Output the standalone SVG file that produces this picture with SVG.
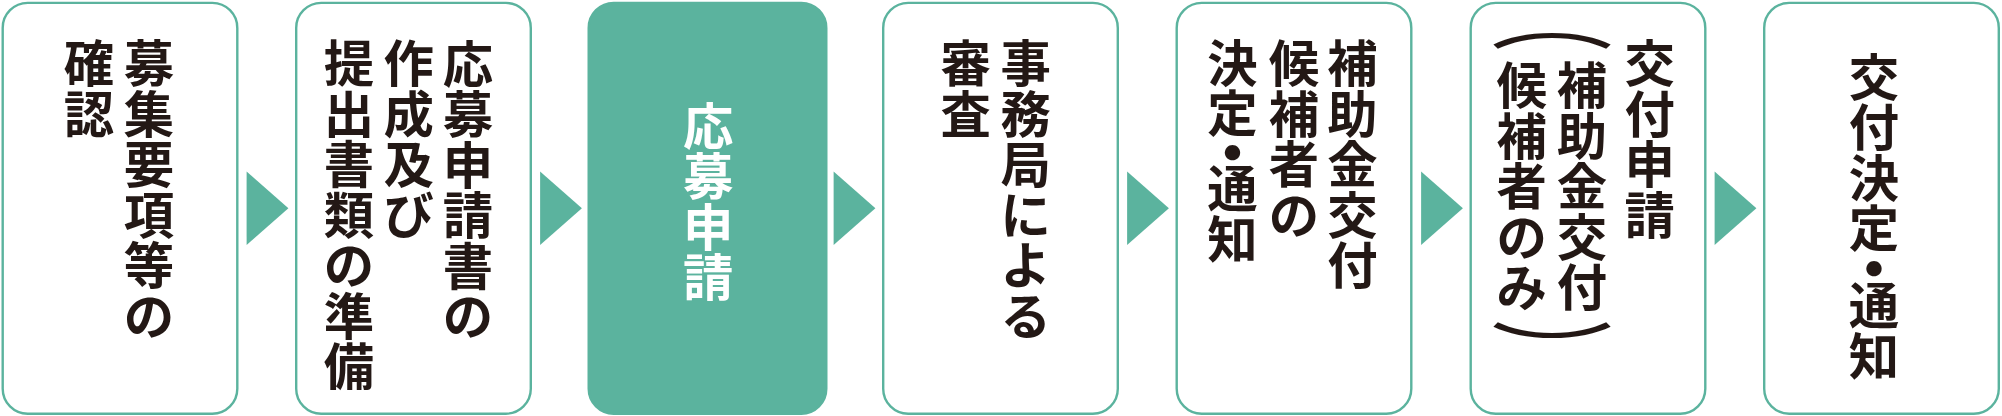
<svg xmlns="http://www.w3.org/2000/svg" width="2002" height="416" viewBox="0 0 2002 416">
<style>
.box{fill:#ffffff;stroke:#5bb39e;stroke-width:2.4}
.boxf{fill:#5bb39e;stroke:#5bb39e;stroke-width:2.4}
.arr{fill:#5bb39e}
.t{font-family:"Noto Sans CJK JP","Noto Sans CJK SC",sans-serif;font-weight:700;font-size:50.4px;fill:#231815;text-anchor:middle;dominant-baseline:central}
.w{fill:#ffffff}
.d{font-size:60px}
.p{font-family:"Noto Sans CJK JP","Noto Sans CJK SC",sans-serif;font-weight:500;font-size:56px;fill:#231815;text-anchor:middle;dominant-baseline:central}
</style>
<rect width="2002" height="416" fill="#ffffff"/>
<g id="connectors">
<polygon class="arr" points="246.6,171.5 288.4,208.3 246.6,245"/>
<polygon class="arr" points="540.1,171.5 581.9,208.3 540.1,245"/>
<polygon class="arr" points="833.6,171.5 875.4,208.3 833.6,245"/>
<polygon class="arr" points="1127.1,171.5 1168.9,208.3 1127.1,245"/>
<polygon class="arr" points="1421.1,171.5 1462.9,208.3 1421.1,245"/>
<polygon class="arr" points="1714.6,171.5 1756.4,208.3 1714.6,245"/>
</g>
<g id="node1">
<rect class="box" x="2.7" y="2.9" width="234.6" height="410.8" rx="25"/>
<text class="t"><tspan x="149" y="60">募</tspan><tspan x="149" y="110.5">集</tspan><tspan x="149" y="161">要</tspan><tspan x="149" y="211.5">項</tspan><tspan x="149" y="262">等</tspan><tspan x="149" y="312.5">の</tspan></text>
<text class="t"><tspan x="89" y="60">確</tspan><tspan x="89" y="110.5">認</tspan></text>
</g>
<g id="node2">
<rect class="box" x="296.2" y="2.9" width="234.6" height="410.8" rx="25"/>
<text class="t"><tspan x="468" y="60.5">応</tspan><tspan x="468" y="111">募</tspan><tspan x="468" y="161.5">申</tspan><tspan x="468" y="212">請</tspan><tspan x="468" y="262.5">書</tspan><tspan x="468" y="313">の</tspan></text>
<text class="t"><tspan x="408.6" y="60">作</tspan><tspan x="408.6" y="110.5">成</tspan><tspan x="408.6" y="161">及</tspan><tspan x="408.6" y="211.5">び</tspan></text>
<text class="t"><tspan x="349" y="60">提</tspan><tspan x="349" y="110.5">出</tspan><tspan x="349" y="161">書</tspan><tspan x="349" y="211.5">類</tspan><tspan x="349" y="262">の</tspan><tspan x="349" y="312.5">準</tspan><tspan x="349" y="363">備</tspan></text>
</g>
<g id="node3">
<rect class="boxf" x="588.7" y="2.9" width="237.6" height="410.8" rx="25"/>
<text class="t w"><tspan x="708.3" y="122.5">応</tspan><tspan x="708.3" y="173">募</tspan><tspan x="708.3" y="223.5">申</tspan><tspan x="708.3" y="274">請</tspan></text>
</g>
<g id="node4">
<rect class="box" x="883.2" y="2.9" width="234.6" height="410.8" rx="25"/>
<text class="t"><tspan x="1025.8" y="60">事</tspan><tspan x="1025.8" y="110.5">務</tspan><tspan x="1025.8" y="161">局</tspan><tspan x="1025.8" y="211.5">に</tspan><tspan x="1025.8" y="262">よ</tspan><tspan x="1025.8" y="312.5">る</tspan></text>
<text class="t"><tspan x="965.8" y="60">審</tspan><tspan x="965.8" y="110.5">査</tspan></text>
</g>
<g id="node5">
<rect class="box" x="1176.7" y="2.9" width="234.6" height="410.8" rx="25"/>
<text class="t"><tspan x="1352.5" y="60">補</tspan><tspan x="1352.5" y="110.5">助</tspan><tspan x="1352.5" y="161">金</tspan><tspan x="1352.5" y="211.5">交</tspan><tspan x="1352.5" y="262">付</tspan></text>
<text class="t"><tspan x="1294" y="60">候</tspan><tspan x="1294" y="110.5">補</tspan><tspan x="1294" y="161">者</tspan><tspan x="1294" y="211.5">の</tspan></text>
<text class="t"><tspan x="1232.5" y="60">決</tspan><tspan x="1232.5" y="109.5">定</tspan><tspan class="d" x="1232.5" y="149">・</tspan><tspan x="1232.5" y="185">通</tspan><tspan x="1232.5" y="235.5">知</tspan></text>
</g>
<g id="node6">
<rect class="box" x="1470.7" y="2.9" width="234.6" height="410.8" rx="25"/>
<text class="t"><tspan x="1649.6" y="60">交</tspan><tspan x="1649.6" y="110.5">付</tspan><tspan x="1649.6" y="161">申</tspan><tspan x="1649.6" y="211.5">請</tspan></text>
<text class="p" transform="translate(1552,19) scale(2.19,1)">︵</text>
<text class="t"><tspan x="1582" y="82">補</tspan><tspan x="1582" y="132.5">助</tspan><tspan x="1582" y="183">金</tspan><tspan x="1582" y="233.5">交</tspan><tspan x="1582" y="284">付</tspan></text>
<text class="t"><tspan x="1521.7" y="82">候</tspan><tspan x="1521.7" y="132.5">補</tspan><tspan x="1521.7" y="183">者</tspan><tspan x="1521.7" y="233.5">の</tspan><tspan x="1521.7" y="284">み</tspan></text>
<text class="p" transform="translate(1552,344) scale(2.19,1)">︶</text>
</g>
<g id="node7">
<rect class="box" x="1764.2" y="2.9" width="234.6" height="410.8" rx="25"/>
<text class="t"><tspan x="1874" y="73.5">交</tspan><tspan x="1874" y="124">付</tspan><tspan x="1874" y="174.5">決</tspan><tspan x="1874" y="225">定</tspan><tspan class="d" x="1874" y="265">・</tspan><tspan x="1874" y="302">通</tspan><tspan x="1874" y="352.5">知</tspan></text>
</g>
</svg>
